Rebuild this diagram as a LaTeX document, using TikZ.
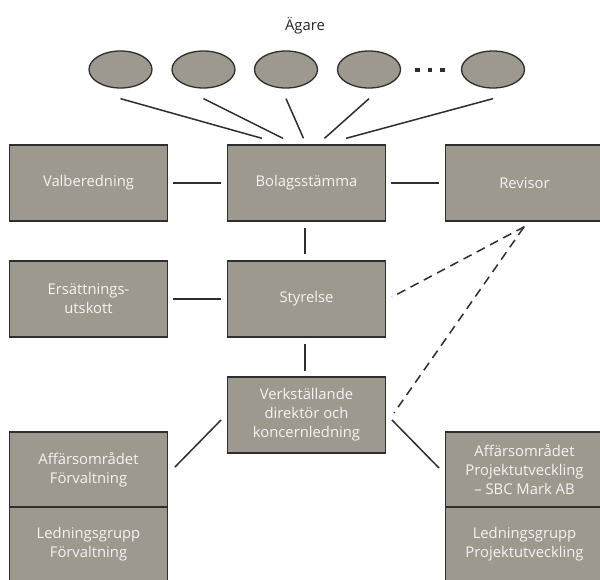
\documentclass[tikz,border=0pt]{standalone}
\usepackage{fontspec}
\setmainfont{Open Sans}
\usetikzlibrary{shapes.geometric,calc}
\definecolor{boxfill}{HTML}{9E998E}
\definecolor{boxline}{HTML}{2E2E2E}
\definecolor{boxtext}{HTML}{F4F4F2}
\begin{document}
\begin{tikzpicture}[x=1pt,y=-1pt,
  orgbox/.style={draw=boxline,line width=1.3pt,fill=boxfill,minimum width=157.7pt,minimum height=76pt,inner sep=0pt,
    text=boxtext,align=center,font=\fontsize{14.8}{19}\selectfont},
  owner/.style={ellipse,draw=boxline,line width=1.3pt,fill=boxfill,minimum width=63pt,minimum height=37pt,inner sep=0pt},
  link/.style={draw=boxline,line width=1.5pt},
  dlink/.style={draw=boxline,line width=1.5pt,dash pattern=on 9pt off 6pt}]
\clip (0,0) rectangle (600,580);
\fill[white] (0,0) rectangle (600,580);
% title
\node[text=black!85,font=\fontsize{14.8}{18}\selectfont] (agare) at (305,26) {Ägare};
% owners
\node[owner] (e1) at (120.5,69.5) {};
\node[owner] (e2) at (203.5,69.5) {};
\node[owner] (e3) at (286,69.5) {};
\node[owner] (e4) at (369,69.5) {};
\node[owner] (e5) at (493,69.5) {};
\foreach \x in {417.5,430,442.5} \fill[boxline] (\x-2.3,67.7) rectangle (\x+2.3,72.3);
% boxes
\node[orgbox] (val) at (88.5,183) {Valberedning};
\node[orgbox] (bol) at (306.5,183) {Bolagsstämma};
\node[orgbox] (rev) at (524.5,183) {Revisor};
\node[orgbox] (ers) at (88.5,299) {Ersättnings-\\utskott};
\node[orgbox] (sty) at (306.5,299) {Styrelse};
\node[orgbox] (vd) at (306.5,415) {Verkställande\\direktör och\\koncernledning};
\node[orgbox,minimum height=75pt] (aff) at (88.5,469.5) {Affärsområdet\\Förvaltning};
\node[orgbox,minimum height=75pt] (led) at (88.5,544.5) {Ledningsgrupp\\Förvaltning};
\node[orgbox,minimum height=75pt] (proj) at (524.5,469.5) {Affärsområdet\\Projektutveckling\\– SBC Mark AB};
\node[orgbox,minimum height=75pt] (ledp) at (524.5,544.5) {Ledningsgrupp\\Projektutveckling};
% owner connectors
\draw[link] ($(e1.south)+(0,10)$) -- ($(bol.north)+(-44.5,-6)$);
\draw[link] ($(e2.south)+(0,10)$) -- ($(bol.north)+(-23.5,-6)$);
\draw[link] ($(e3.south)+(0,10)$) -- ($(bol.north)+(-3,-6)$);
\draw[link] ($(e4.south)+(0,10)$) -- ($(bol.north)+(18,-6)$);
\draw[link] ($(e5.south)+(0,10)$) -- ($(bol.north)+(39.5,-6)$);
% box connectors
\draw[link] ($(val.east)+(5,0)$) -- ($(bol.west)+(-6,0)$);
\draw[link] ($(bol.east)+(5,0)$) -- ($(rev.west)+(-6,0)$);
\draw[link] ($(bol.south)+(-1.5,6)$) -- ($(sty.north)+(-1.5,-6)$);
\draw[link] ($(ers.east)+(5,0)$) -- ($(sty.west)+(-6,0)$);
\draw[link] ($(sty.south)+(-1.5,6)$) -- ($(vd.north)+(-1.5,-5)$);
\draw[link] ($(vd.west)+(-6,5)$) -- ($(aff.east)+(7,-2.5)$);
\draw[link] ($(vd.east)+(6,5)$) -- ($(proj.west)+(-6,-1.5)$);
% dashed
\draw[dlink] ($(rev.south)+(0,5)$) -- ($(sty.east)+(6,-2)$);
\draw[dlink] ($(rev.south)+(-1,6)$) -- ($(vd.east)+(8,-2)$);
\end{tikzpicture}
\end{document}
